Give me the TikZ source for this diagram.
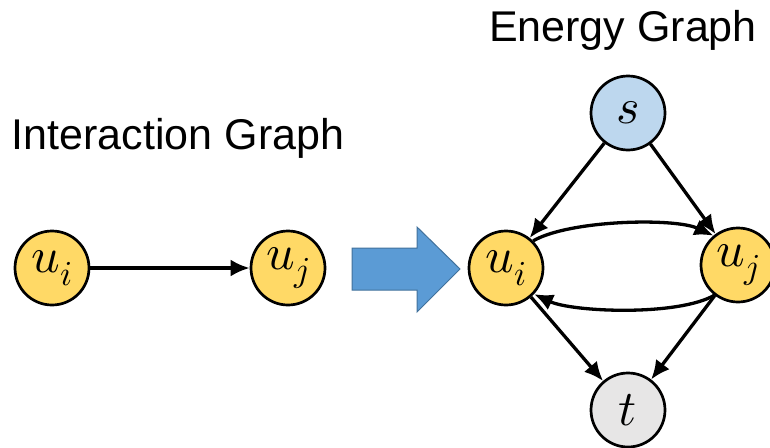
\documentclass[tikz,border=0pt]{standalone}
\usepackage{fontspec}
\setmainfont{Liberation Sans}
\usepackage{unicode-math}
\setmathfont{Latin Modern Math}
\usetikzlibrary{arrows.meta}
\definecolor{nodeyellow}{HTML}{FFD966}
\definecolor{nodeblue}{HTML}{BDD7EE}
\definecolor{nodegray}{HTML}{E7E6E6}
\definecolor{arrowblue}{HTML}{5B9BD5}
\definecolor{arrowedge}{HTML}{41719C}
\tikzset{
  vnode/.style={circle,draw=black,line width=2.7pt,minimum size=74pt,inner sep=0pt,font=\fontsize{50}{56}\selectfont},
  edge/.style={line width=3.3pt,-{Latex[length=19pt,width=17pt]}},
  title/.style={font=\fontsize{43}{50}\selectfont,inner sep=0pt}
}
\begin{document}
\begin{tikzpicture}[x=1pt,y=-1pt]
\useasboundingbox (0,0) rectangle (770,447);
% titles
\node[title,anchor=center] (ititle) at (178,138) {Interaction Graph};
\node[title,anchor=center] (etitle) at (623,30) {Energy Graph};
% left graph
\node[vnode,fill=nodeyellow] (lui) at (52,268) {$u_i$};
\node[vnode,fill=nodeyellow] (luj) at (288,268) {$u_j$};
\draw[edge] (lui) -- (luj);
% big arrow
\draw[draw=arrowedge,fill=arrowblue,line width=1pt]
  (352,248) -- (417,248) -- (417,227) -- (460,269) -- (417,312) -- (417,290) -- (352,290) -- cycle;
% right graph
\node[vnode,fill=nodeblue] (s) at (628,113) {$s$};
\node[vnode,fill=nodeyellow] (rui) at (506,268) {$u_i$};
\node[vnode,fill=nodeyellow] (ruj) at (738,265) {$u_j$};
\node[vnode,fill=nodegray] (t) at (628,410) {$t$};
\draw[edge] (s) -- (rui);
\draw[edge] (s) -- (ruj);
\draw[edge] (rui) -- (t);
\draw[edge] (ruj) -- (t);
\draw[edge] (rui.45) to[out=30,in=155,looseness=0.6] (ruj.130);
\draw[edge] (ruj.-128) to[out=-150,in=-25,looseness=0.6] (rui.-43);
\end{tikzpicture}
\end{document}
